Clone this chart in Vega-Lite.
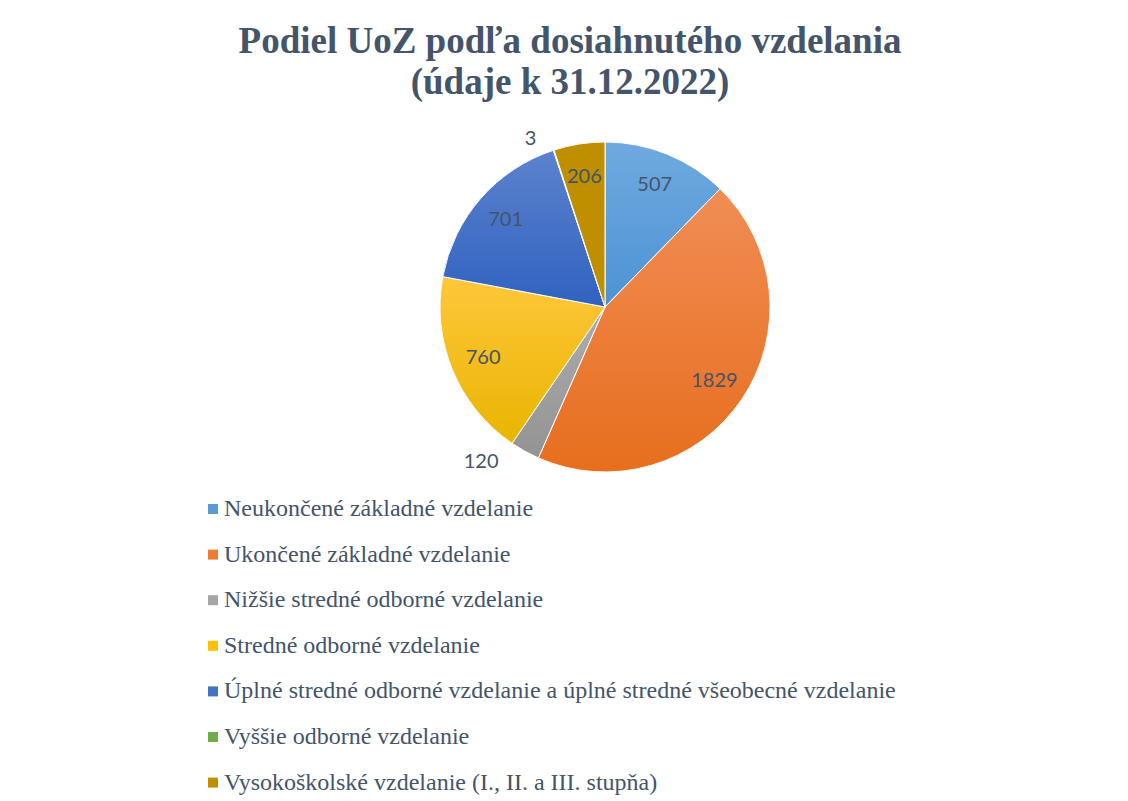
{
  "$schema": "https://vega.github.io/schema/vega-lite/v6.json",
  "width": 330,
  "height": 330,
  "autosize": {"type": "none"},
  "padding": {"left": 440, "top": 142, "right": 358, "bottom": 329},
  "background": "white",
  "config": {"view": {"stroke": null}},
  "title": {
    "text": ["Podiel UoZ podľa dosiahnutého vzdelania", "(údaje k 31.12.2022)"],
    "font": "Liberation Serif",
    "fontSize": 37,
    "fontWeight": "bold",
    "color": "#44546A",
    "anchor": "middle",
    "dx": -35,
    "offset": 5,
    "lineHeight": 41
  },
  "data": {
    "values": [
      {"order": 1, "cat": "Neukončené základné vzdelanie", "value": 507},
      {"order": 2, "cat": "Ukončené základné vzdelanie", "value": 1829},
      {"order": 3, "cat": "Nižšie stredné odborné vzdelanie", "value": 120},
      {"order": 4, "cat": "Stredné odborné vzdelanie", "value": 760},
      {"order": 5, "cat": "Úplné stredné odborné vzdelanie a úplné stredné všeobecné vzdelanie", "value": 701},
      {"order": 6, "cat": "Vyššie odborné vzdelanie", "value": 3},
      {"order": 7, "cat": "Vysokoškolské vzdelanie (I., II. a III. stupňa)", "value": 206}
    ]
  },
  "encoding": {
    "theta": {"field": "value", "type": "quantitative", "stack": true},
    "order": {"field": "order", "type": "quantitative"}
  },
  "layer": [
    {
      "mark": {"type": "arc", "outerRadius": 165},
      "encoding": {
        "color": {
          "field": "cat",
          "type": "nominal",
          "sort": null,
          "scale": {
            "domain": [
              "Neukončené základné vzdelanie",
              "Ukončené základné vzdelanie",
              "Nižšie stredné odborné vzdelanie",
              "Stredné odborné vzdelanie",
              "Úplné stredné odborné vzdelanie a úplné stredné všeobecné vzdelanie",
              "Vyššie odborné vzdelanie",
              "Vysokoškolské vzdelanie (I., II. a III. stupňa)"
            ],
            "range": ["#5B9BD5", "#ED7D31", "#A5A5A5", "#FFC000", "#4472C4", "#70AD47", "#BF8F00"]
          },
          "legend": {
            "orient": "none",
            "legendX": -239,
            "legendY": 355,
            "title": null,
            "direction": "vertical",
            "columns": 1,
            "padding": 0,
            "symbolType": "square",
            "symbolSize": 100,
            "symbolStrokeWidth": 0,
            "labelFont": "Liberation Serif",
            "labelFontSize": 24,
            "labelColor": "#44546A",
            "labelOffset": -1,
            "labelLimit": 1000,
            "rowPadding": 21.6
          }
        }
      }
    },
    {
      "mark": {"type": "arc", "outerRadius": 165, "stroke": "white", "strokeWidth": 1},
      "encoding": {
        "fill": {
          "condition": [
            {"test": "datum.order === 1", "value": {"gradient": "linear", "x1": 0, "y1": 0, "x2": 0, "y2": 1, "stops": [{"offset": 0, "color": "#70A9DF"}, {"offset": 1, "color": "#4C93D5"}]}},
            {"test": "datum.order === 2", "value": {"gradient": "linear", "x1": 0, "y1": 0, "x2": 0, "y2": 1, "stops": [{"offset": 0, "color": "#F18D55"}, {"offset": 1, "color": "#E76E1D"}]}},
            {"test": "datum.order === 3", "value": {"gradient": "linear", "x1": 0, "y1": 0, "x2": 0, "y2": 1, "stops": [{"offset": 0, "color": "#ADADAD"}, {"offset": 1, "color": "#939393"}]}},
            {"test": "datum.order === 4", "value": {"gradient": "linear", "x1": 0, "y1": 0, "x2": 0, "y2": 1, "stops": [{"offset": 0, "color": "#FFC73B"}, {"offset": 1, "color": "#E8B500"}]}},
            {"test": "datum.order === 5", "value": {"gradient": "linear", "x1": 0, "y1": 0, "x2": 0, "y2": 1, "stops": [{"offset": 0, "color": "#5C82CE"}, {"offset": 1, "color": "#2F62BF"}]}},
            {"test": "datum.order === 6", "value": "#70AD47"}
          ],
          "value": "#BF8F00"
        }
      }
    },
    {
      "mark": {"type": "text", "radius": 132, "font": "Lato", "fontSize": 20, "color": "#44546A"},
      "encoding": {
        "text": {"field": "value", "type": "quantitative", "condition": {"test": "datum.value < 200", "value": ""}}
      }
    },
    {
      "mark": {"type": "text", "radius": 185, "dx": -34, "dy": -7, "font": "Lato", "fontSize": 20, "color": "#44546A"},
      "encoding": {
        "text": {"field": "value", "type": "quantitative", "condition": {"test": "datum.value !== 120", "value": ""}}
      }
    },
    {
      "mark": {"type": "text", "radius": 185, "dx": -17, "dy": 8, "font": "Lato", "fontSize": 20, "color": "#44546A"},
      "encoding": {
        "text": {"field": "value", "type": "quantitative", "condition": {"test": "datum.value !== 3", "value": ""}}
      }
    }
  ]
}
